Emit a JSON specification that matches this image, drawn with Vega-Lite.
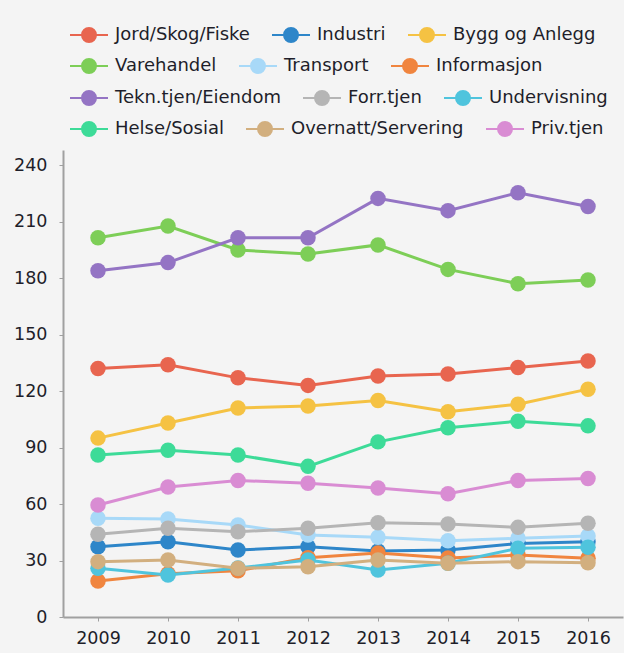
{
  "$schema": "https://vega.github.io/schema/vega-lite/v6.json",
  "width": 560,
  "height": 467,
  "autosize": {"type": "none"},
  "padding": {"left": 63, "top": 150, "right": 1, "bottom": 36},
  "background": "#F4F4F4",
  "config": {
    "view": {"stroke": null},
    "font": "DejaVu Sans",
    "legend": {
      "title": null,
      "orient": "none",
      "direction": "horizontal",
      "columns": 3,
      "symbolType": "M-2.375,0H2.375M0.875,0A0.875,0.875 0 1,1 -0.875,0A0.875,0.875 0 1,1 0.875,0Z",
      "symbolSize": 256,
      "symbolStrokeWidth": 2,
      "labelFontSize": 18,
      "labelColor": "#1E1E2A",
      "labelOffset": 17,
      "columnPadding": 18,
      "labelLimit": 400
    }
  },
  "data": {
    "values": [
      {"year": "2009", "series": "Jord/Skog/Fiske", "value": 132},
      {"year": "2010", "series": "Jord/Skog/Fiske", "value": 134},
      {"year": "2011", "series": "Jord/Skog/Fiske", "value": 127},
      {"year": "2012", "series": "Jord/Skog/Fiske", "value": 123},
      {"year": "2013", "series": "Jord/Skog/Fiske", "value": 128},
      {"year": "2014", "series": "Jord/Skog/Fiske", "value": 129},
      {"year": "2015", "series": "Jord/Skog/Fiske", "value": 132.5},
      {"year": "2016", "series": "Jord/Skog/Fiske", "value": 136},
      {"year": "2009", "series": "Industri", "value": 37.3},
      {"year": "2010", "series": "Industri", "value": 40},
      {"year": "2011", "series": "Industri", "value": 35.6},
      {"year": "2012", "series": "Industri", "value": 37.3},
      {"year": "2013", "series": "Industri", "value": 35},
      {"year": "2014", "series": "Industri", "value": 35.6},
      {"year": "2015", "series": "Industri", "value": 39},
      {"year": "2016", "series": "Industri", "value": 40},
      {"year": "2009", "series": "Bygg og Anlegg", "value": 95},
      {"year": "2010", "series": "Bygg og Anlegg", "value": 103},
      {"year": "2011", "series": "Bygg og Anlegg", "value": 111},
      {"year": "2012", "series": "Bygg og Anlegg", "value": 112},
      {"year": "2013", "series": "Bygg og Anlegg", "value": 115},
      {"year": "2014", "series": "Bygg og Anlegg", "value": 109},
      {"year": "2015", "series": "Bygg og Anlegg", "value": 113},
      {"year": "2016", "series": "Bygg og Anlegg", "value": 121},
      {"year": "2009", "series": "Varehandel", "value": 201.4},
      {"year": "2010", "series": "Varehandel", "value": 207.6},
      {"year": "2011", "series": "Varehandel", "value": 194.9},
      {"year": "2012", "series": "Varehandel", "value": 192.8},
      {"year": "2013", "series": "Varehandel", "value": 197.6},
      {"year": "2014", "series": "Varehandel", "value": 184.6},
      {"year": "2015", "series": "Varehandel", "value": 177},
      {"year": "2016", "series": "Varehandel", "value": 179},
      {"year": "2009", "series": "Transport", "value": 52.4},
      {"year": "2010", "series": "Transport", "value": 52},
      {"year": "2011", "series": "Transport", "value": 48.9},
      {"year": "2012", "series": "Transport", "value": 43.5},
      {"year": "2013", "series": "Transport", "value": 42.3},
      {"year": "2014", "series": "Transport", "value": 40.5},
      {"year": "2015", "series": "Transport", "value": 41.8},
      {"year": "2016", "series": "Transport", "value": 43},
      {"year": "2009", "series": "Informasjon", "value": 19.1},
      {"year": "2010", "series": "Informasjon", "value": 23},
      {"year": "2011", "series": "Informasjon", "value": 24.5},
      {"year": "2012", "series": "Informasjon", "value": 31.5},
      {"year": "2013", "series": "Informasjon", "value": 34},
      {"year": "2014", "series": "Informasjon", "value": 31.3},
      {"year": "2015", "series": "Informasjon", "value": 32.9},
      {"year": "2016", "series": "Informasjon", "value": 31.2},
      {"year": "2009", "series": "Tekn.tjen/Eiendom", "value": 183.9},
      {"year": "2010", "series": "Tekn.tjen/Eiendom", "value": 188.2},
      {"year": "2011", "series": "Tekn.tjen/Eiendom", "value": 201.4},
      {"year": "2012", "series": "Tekn.tjen/Eiendom", "value": 201.4},
      {"year": "2013", "series": "Tekn.tjen/Eiendom", "value": 222.3},
      {"year": "2014", "series": "Tekn.tjen/Eiendom", "value": 215.8},
      {"year": "2015", "series": "Tekn.tjen/Eiendom", "value": 225.3},
      {"year": "2016", "series": "Tekn.tjen/Eiendom", "value": 218},
      {"year": "2009", "series": "Forr.tjen", "value": 43.9},
      {"year": "2010", "series": "Forr.tjen", "value": 47.1},
      {"year": "2011", "series": "Forr.tjen", "value": 45.3},
      {"year": "2012", "series": "Forr.tjen", "value": 47.1},
      {"year": "2013", "series": "Forr.tjen", "value": 50.1},
      {"year": "2014", "series": "Forr.tjen", "value": 49.4},
      {"year": "2015", "series": "Forr.tjen", "value": 47.6},
      {"year": "2016", "series": "Forr.tjen", "value": 49.8},
      {"year": "2009", "series": "Undervisning", "value": 25.9},
      {"year": "2010", "series": "Undervisning", "value": 22.3},
      {"year": "2011", "series": "Undervisning", "value": 26},
      {"year": "2012", "series": "Undervisning", "value": 30.3},
      {"year": "2013", "series": "Undervisning", "value": 25},
      {"year": "2014", "series": "Undervisning", "value": 28.5},
      {"year": "2015", "series": "Undervisning", "value": 36.5},
      {"year": "2016", "series": "Undervisning", "value": 37},
      {"year": "2009", "series": "Helse/Sosial", "value": 86},
      {"year": "2010", "series": "Helse/Sosial", "value": 88.5},
      {"year": "2011", "series": "Helse/Sosial", "value": 86},
      {"year": "2012", "series": "Helse/Sosial", "value": 80},
      {"year": "2013", "series": "Helse/Sosial", "value": 93},
      {"year": "2014", "series": "Helse/Sosial", "value": 100.5},
      {"year": "2015", "series": "Helse/Sosial", "value": 104},
      {"year": "2016", "series": "Helse/Sosial", "value": 101.5},
      {"year": "2009", "series": "Overnatt/Servering", "value": 29.4},
      {"year": "2010", "series": "Overnatt/Servering", "value": 30.3},
      {"year": "2011", "series": "Overnatt/Servering", "value": 25.9},
      {"year": "2012", "series": "Overnatt/Servering", "value": 26.7},
      {"year": "2013", "series": "Overnatt/Servering", "value": 30.3},
      {"year": "2014", "series": "Overnatt/Servering", "value": 28.5},
      {"year": "2015", "series": "Overnatt/Servering", "value": 29.4},
      {"year": "2016", "series": "Overnatt/Servering", "value": 28.8},
      {"year": "2009", "series": "Priv.tjen", "value": 59.5},
      {"year": "2010", "series": "Priv.tjen", "value": 69},
      {"year": "2011", "series": "Priv.tjen", "value": 72.5},
      {"year": "2012", "series": "Priv.tjen", "value": 71},
      {"year": "2013", "series": "Priv.tjen", "value": 68.5},
      {"year": "2014", "series": "Priv.tjen", "value": 65.5},
      {"year": "2015", "series": "Priv.tjen", "value": 72.5},
      {"year": "2016", "series": "Priv.tjen", "value": 73.5}
    ]
  },
  "encoding": {
    "x": {
      "field": "year",
      "type": "ordinal",
      "scale": {"type": "point", "padding": 0.5},
      "axis": {
        "title": null,
        "labelAngle": 0,
        "labelFontSize": 17.5,
        "labelColor": "#1E1E2A",
        "labelPadding": 8,
        "domainColor": "#A0A0A0",
        "domainWidth": 2,
        "tickColor": "#A0A0A0",
        "tickSize": 4,
        "grid": false
      }
    },
    "y": {
      "field": "value",
      "type": "quantitative",
      "scale": {"domain": [0, 248], "nice": false},
      "axis": {
        "title": null,
        "values": [0, 30, 60, 90, 120, 150, 180, 210, 240],
        "labelFontSize": 17.5,
        "labelColor": "#1E1E2A",
        "labelPadding": 12,
        "domainColor": "#A0A0A0",
        "domainWidth": 2,
        "tickColor": "#A0A0A0",
        "tickSize": 4,
        "grid": false
      }
    }
  },
  "layer": [
    {
      "transform": [{"filter": {"field": "series", "oneOf": ["Jord/Skog/Fiske", "Industri", "Bygg og Anlegg"]}}],
      "encoding": {
        "color": {
          "field": "series", "type": "nominal",
          "scale": {"domain": ["Jord/Skog/Fiske", "Industri", "Bygg og Anlegg"], "range": ["#E8654F", "#2E86C9", "#F5C243"]},
          "legend": {"legendX": 17, "legendY": -124, "encode": {"symbols": {"update": {"fill": {"scale": "color", "field": "value"}, "stroke": {"scale": "color", "field": "value"}, "opacity": {"value": 1}}}}}
        }
      },
      "layer": [
        {"mark": {"type": "line", "strokeWidth": 3}},
        {"mark": {"type": "point", "filled": true, "size": 240, "opacity": 1, "shape": "circle"}}
      ]
    },
    {
      "transform": [{"filter": {"field": "series", "oneOf": ["Varehandel", "Transport", "Informasjon"]}}],
      "encoding": {
        "color": {
          "field": "series", "type": "nominal",
          "scale": {"domain": ["Varehandel", "Transport", "Informasjon"], "range": ["#7DCE57", "#A8D9F8", "#F0853F"]},
          "legend": {"legendX": 17, "legendY": -93, "encode": {"symbols": {"update": {"fill": {"scale": "color_1", "field": "value"}, "stroke": {"scale": "color_1", "field": "value"}, "opacity": {"value": 1}}}}}
        }
      },
      "layer": [
        {"mark": {"type": "line", "strokeWidth": 3}},
        {"mark": {"type": "point", "filled": true, "size": 240, "opacity": 1, "shape": "circle"}}
      ]
    },
    {
      "transform": [{"filter": {"field": "series", "oneOf": ["Tekn.tjen/Eiendom", "Forr.tjen", "Undervisning"]}}],
      "encoding": {
        "color": {
          "field": "series", "type": "nominal",
          "scale": {"domain": ["Tekn.tjen/Eiendom", "Forr.tjen", "Undervisning"], "range": ["#9474C4", "#B5B5B5", "#4FC4DD"]},
          "legend": {"legendX": 17, "legendY": -61, "encode": {"symbols": {"update": {"fill": {"scale": "color_2", "field": "value"}, "stroke": {"scale": "color_2", "field": "value"}, "opacity": {"value": 1}}}}}
        }
      },
      "layer": [
        {"mark": {"type": "line", "strokeWidth": 3}},
        {"mark": {"type": "point", "filled": true, "size": 240, "opacity": 1, "shape": "circle"}}
      ]
    },
    {
      "transform": [{"filter": {"field": "series", "oneOf": ["Helse/Sosial", "Overnatt/Servering", "Priv.tjen"]}}],
      "encoding": {
        "color": {
          "field": "series", "type": "nominal",
          "scale": {"domain": ["Helse/Sosial", "Overnatt/Servering", "Priv.tjen"], "range": ["#3DDB98", "#D2AF7F", "#D98CD3"]},
          "legend": {"legendX": 17, "legendY": -30, "encode": {"symbols": {"update": {"fill": {"scale": "color_3", "field": "value"}, "stroke": {"scale": "color_3", "field": "value"}, "opacity": {"value": 1}}}}}
        }
      },
      "layer": [
        {"mark": {"type": "line", "strokeWidth": 3}},
        {"mark": {"type": "point", "filled": true, "size": 240, "opacity": 1, "shape": "circle"}}
      ]
    }
  ],
  "resolve": {"scale": {"color": "independent"}}
}
